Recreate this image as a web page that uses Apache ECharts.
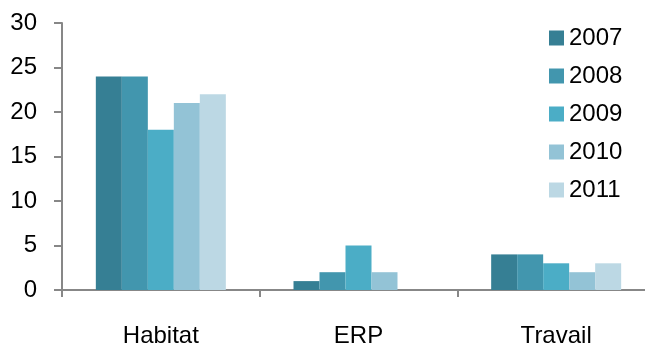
<!DOCTYPE html>
<html>
<head>
<meta charset="utf-8">
<script src="https://cdn.jsdelivr.net/npm/echarts@6/dist/echarts.min.js"></script>
<style>
  html, body { margin: 0; padding: 0; background: #fff; overflow: hidden; }
  /* the drawing area is a bit wider than the window so the x axis runs off the right edge */
  #chart { width: 655px; height: 343px; }
</style>
</head>
<body>
<div id="chart"></div>
<script>
// Categories on the x axis
const categories = ['Habitat', 'ERP', 'Travail'];

// One series per year
const years = ['2007', '2008', '2009', '2010', '2011'];
const values2007 = [24, 1, 4];
const values2008 = [24, 2, 4];
const values2009 = [18, 5, 3];
const values2010 = [21, 2, 2];
const values2011 = [22, 0, 3];

const seriesValues = [values2007, values2008, values2009, values2010, values2011];
const colors = ['#367f94', '#4296ae', '#4badc6', '#93c3d6', '#bcd8e4'];

// Y axis ticks
const yMin = 0;
const yMax = 30;
const yStep = 5;

const FONT = 'Liberation Sans';
const AXIS_GRAY = '#878787';

const chart = echarts.init(document.getElementById('chart'), null, { renderer: 'canvas' });

chart.setOption({
  animation: false,
  textStyle: { fontFamily: FONT },
  grid: {
    left: 62, right: 0, top: 23, bottom: 53,
    containLabel: false,
    outerBoundsMode: 'none'
  },
  legend: {
    orient: 'vertical',
    left: 544,
    top: 21,
    itemWidth: 15,
    itemHeight: 15,
    itemGap: 14,
    icon: 'rect',
    textStyle: { fontFamily: FONT, fontSize: 24, color: '#000' },
    data: years
  },
  xAxis: {
    type: 'category',
    data: categories,
    axisLine: { lineStyle: { color: AXIS_GRAY, width: 2 } },
    axisTick: { show: true, length: 7, lineStyle: { color: AXIS_GRAY, width: 2 } },
    axisLabel: { fontFamily: FONT, fontSize: 24, color: '#000', margin: 34 }
  },
  yAxis: {
    type: 'value',
    min: yMin,
    max: yMax,
    interval: yStep,
    splitLine: { show: false },
    axisLine: { show: true, lineStyle: { color: AXIS_GRAY, width: 2 } },
    axisTick: { show: true, length: 8, lineStyle: { color: AXIS_GRAY, width: 2 } },
    axisLabel: { fontFamily: FONT, fontSize: 24, color: '#000', margin: 25 }
  },
  series: years.map((y, i) => ({
    name: y,
    type: 'bar',
    data: seriesValues[i],
    barWidth: 26,
    barGap: '0%',
    itemStyle: { color: colors[i] }
  }))
});
</script>
</body>
</html>
